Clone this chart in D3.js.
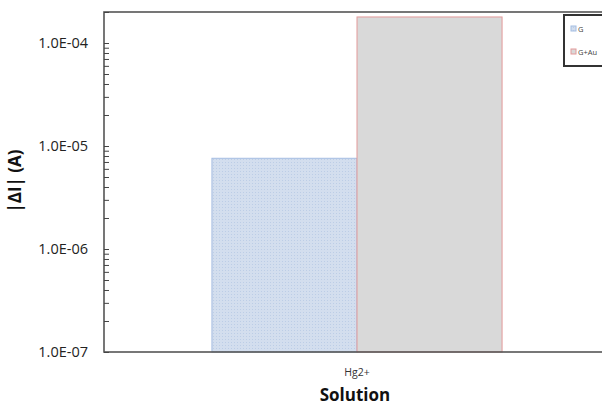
<!DOCTYPE html>
<html>
<head>
<meta charset="utf-8">
<script src="https://d3js.org/d3.v7.min.js"></script>
<style>
  body { margin: 0; background: #fff; }
  text { font-family: "Open Sans", "Noto Sans", sans-serif; }
</style>
</head>
<body>
<script>
// chart data
const categories = ["Hg2+"];
const seriesNames = ["G", "G+Au"];
const seriesValues = [[7.6e-6], [1.79e-4]];
const yTicks = [1e-7, 1e-6, 1e-5, 1e-4];

const width = 602, height = 405;
const plotL = 104, plotT = 12, plotR = 610, plotB = 352;

const svg = d3.select("body").append("svg")
    .attr("width", width)
    .attr("height", height);

const defs = svg.append("defs");
const pat = defs.append("pattern")
    .attr("id", "dots")
    .attr("width", 3).attr("height", 3)
    .attr("patternUnits", "userSpaceOnUse");
pat.append("rect").attr("width", 3).attr("height", 3).attr("fill", "#d3deee");
pat.append("rect").attr("width", 1).attr("height", 1).attr("fill", "#bccde6");

const y = d3.scaleLog().domain([1e-7, 2e-4]).range([plotB, plotT]);
const x0 = d3.scaleBand().domain(categories).range([plotL, plotR]).paddingOuter(0.372);
const x1 = d3.scaleBand().domain(seriesNames).range([0, x0.bandwidth()]);

const fills = { "G": "url(#dots)", "G+Au": "#d9d9d9" };
const strokes = { "G": "#a4bde2", "G+Au": "#e39a9a" };

// bars
seriesNames.forEach((s, si) => {
  svg.append("g").selectAll("rect")
    .data(categories)
    .join("rect")
    .attr("x", c => x0(c) + x1(s))
    .attr("y", (c, i) => y(seriesValues[si][i]))
    .attr("width", x1.bandwidth())
    .attr("height", (c, i) => plotB - y(seriesValues[si][i]))
    .attr("fill", fills[s])
    .attr("stroke", strokes[s])
    .attr("stroke-width", 1);
});

// plot frame
svg.append("rect")
    .attr("x", plotL).attr("y", plotT)
    .attr("width", plotR - plotL).attr("height", plotB - plotT)
    .attr("fill", "none")
    .attr("stroke", "#555")
    .attr("stroke-width", 1.6);

// y axis with minor ticks pointing inward
const minor = [];
for (let e = -7; e < -3; e++) {
  for (let m = 1; m < 10; m++) {
    const v = m * Math.pow(10, e);
    if (v <= 2e-4) minor.push(v);
  }
}
const yAxis = d3.axisRight(y)
    .tickValues(minor)
    .tickSize(5)
    .tickFormat("");
svg.append("g")
    .attr("transform", `translate(${plotL},0)`)
    .call(yAxis)
    .call(g => g.select(".domain").remove())
    .call(g => g.selectAll("line").attr("stroke", "#444"));

svg.append("g").selectAll("text")
    .data(yTicks)
    .join("text")
    .attr("x", 88)
    .attr("y", d => y(d) + 5)
    .attr("text-anchor", "end")
    .attr("font-size", 14.5)
    .attr("fill", "#222")
    .text(d => d.toExponential(1).replace("e-", "E-0").toUpperCase());

// x labels
svg.append("g").selectAll("text")
    .data(categories)
    .join("text")
    .attr("x", c => x0(c) + x0.bandwidth() / 2)
    .attr("y", 376)
    .attr("text-anchor", "middle")
    .attr("font-size", 10.5)
    .attr("fill", "#333")
    .text(c => c);

svg.append("text")
    .attr("x", 355).attr("y", 401)
    .attr("text-anchor", "middle")
    .attr("font-size", 17)
    .attr("font-weight", "bold")
    .attr("fill", "#111")
    .text("Solution");

svg.append("text")
    .attr("transform", "translate(21,181) rotate(-90)")
    .attr("text-anchor", "middle")
    .attr("font-size", 17)
    .attr("font-weight", "bold")
    .attr("fill", "#111")
    .text("|ΔI| (A)");

// legend
const lg = svg.append("g");
lg.append("rect")
    .attr("x", 564).attr("y", 15)
    .attr("width", 50).attr("height", 51)
    .attr("fill", "#fff")
    .attr("stroke", "#333")
    .attr("stroke-width", 2);
seriesNames.forEach((s, i) => {
  const ly = 29 + i * 23;
  lg.append("rect")
      .attr("x", 571).attr("y", ly - 3)
      .attr("width", 5).attr("height", 5)
      .attr("fill", fills[s])
      .attr("stroke", strokes[s])
      .attr("stroke-width", 1);
  lg.append("text")
      .attr("x", 578).attr("y", ly + 2.5)
      .attr("font-size", 7.5)
      .attr("fill", "#444")
      .text(s);
});
</script>
</body>
</html>
